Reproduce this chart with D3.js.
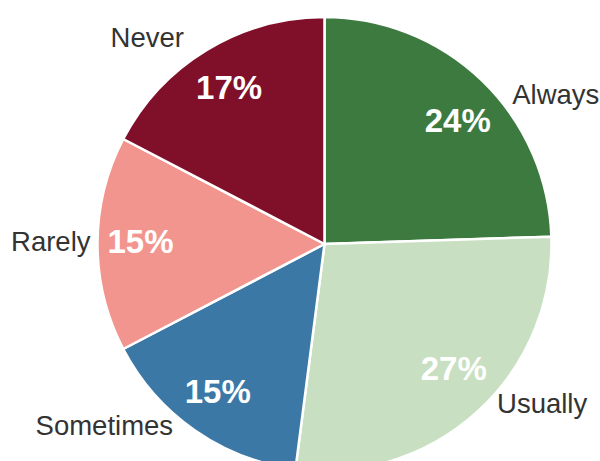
<!DOCTYPE html>
<html>
<head>
<meta charset="utf-8">
<script src="https://cdn.jsdelivr.net/npm/d3@7"></script>
<style>
  html, body { margin: 0; padding: 0; background: #fff; }
  svg { display: block; }
</style>
</head>
<body>
<svg id="chart" width="600" height="461"></svg>
<script>
// ---- data ----
const categories = ["Always", "Usually", "Sometimes", "Rarely", "Never"];
const values = [24, 27, 15, 15, 17];
const pctLabels = ["24%", "27%", "15%", "15%", "17%"];
const colors = ["#3d7a3f", "#c8dfc1", "#3c78a6", "#f2958f", "#80102a"];

// ---- layout (label placement tweaks, degrees / px) ----
const outerNudge = [7.4, -5, 5, 0.7, -3];
const outerRadius = [240, 235, 236, 234, 250];
const pctNudge = [3, -4, 1, 1, 0];
const pctRadius = [182, 179, 182, 184, 184];

const W = 600, H = 461;
const cx = 324.5, cy = 244, R = 227;

const svg = d3.select("#chart");
const g = svg.append("g").attr("transform", `translate(${cx},${cy})`);

const data = categories.map((c, i) => ({ cat: c, value: values[i], pct: pctLabels[i], i }));

const pie = d3.pie().value(d => d.value).sort(null);
const arcs = pie(data);
const arc = d3.arc().innerRadius(0).outerRadius(R);

g.selectAll("path.slice")
  .data(arcs)
  .join("path")
  .attr("class", "slice")
  .attr("d", arc)
  .attr("fill", d => colors[d.data.i])
  .attr("stroke", "#fff")
  .attr("stroke-width", 2.5)
  .attr("stroke-linejoin", "round");

function polar(angleRad, r) {
  return [Math.sin(angleRad) * r, -Math.cos(angleRad) * r];
}

// percent labels
g.selectAll("text.pct")
  .data(arcs)
  .join("text")
  .attr("class", "pct")
  .each(function (d) {
    const i = d.data.i;
    const a = (d.startAngle + d.endAngle) / 2 + pctNudge[i] * Math.PI / 180;
    const [x, y] = polar(a, pctRadius[i]);
    d3.select(this).attr("x", x).attr("y", y);
  })
  .attr("dy", "0.36em")
  .attr("text-anchor", "middle")
  .attr("font-family", "Liberation Sans, Arial, sans-serif")
  .attr("font-weight", "bold")
  .attr("font-size", 33)
  .attr("fill", "#ffffff")
  .text(d => d.data.pct);

// category labels
g.selectAll("text.cat")
  .data(arcs)
  .join("text")
  .attr("class", "cat")
  .each(function (d) {
    const i = d.data.i;
    const a = (d.startAngle + d.endAngle) / 2 + outerNudge[i] * Math.PI / 180;
    const [x, y] = polar(a, outerRadius[i]);
    d3.select(this).attr("x", x).attr("y", y)
      .attr("text-anchor", x >= 0 ? "start" : "end");
  })
  .attr("dy", "0.36em")
  .attr("font-family", "Liberation Sans, Arial, sans-serif")
  .attr("font-size", 27.5)
  .attr("fill", "#333333")
  .text(d => d.data.cat);
</script>
</body>
</html>
